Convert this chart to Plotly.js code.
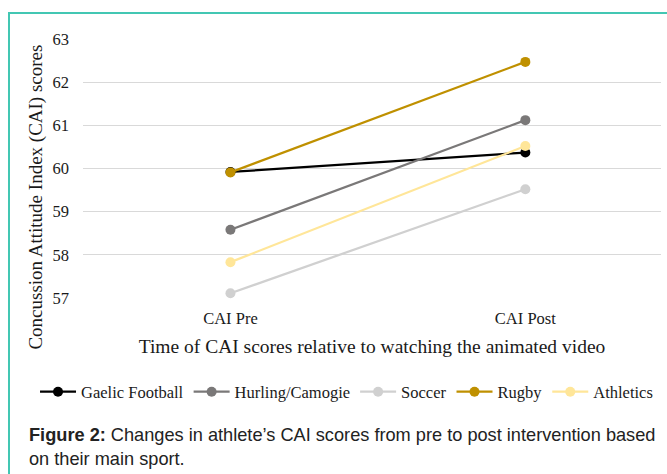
<!DOCTYPE html>
<html>
<head>
<meta charset="utf-8">
<script src="https://cdn.plot.ly/plotly-3.0.1.min.js"></script>
<style>
  html, body { margin: 0; padding: 0; background: #ffffff; }
  #wrap { position: relative; width: 667px; height: 474px; overflow: hidden; }
  #chart { width: 667px; height: 474px; }
  #frame { position: absolute; left: 8px; top: 12px; width: 700px; height: 520px;
           border-top: 2px solid #43c7b3; border-left: 2px solid #43c7b3; pointer-events: none; }
</style>
</head>
<body>
<div id="wrap">
  <div id="chart"></div>
  <div id="frame"></div>
</div>
<script>
// Data
const timePoints = ["CAI Pre", "CAI Post"];
const sports = ["Gaelic Football", "Hurling/Camogie", "Soccer", "Rugby", "Athletics"];
const gaelicFootball = [59.92, 60.37];
const hurlingCamogie = [58.58, 61.12];
const soccer = [57.11, 59.52];
const rugby = [59.91, 62.47];
const athletics = [57.83, 60.52];
const yTicks = [57, 58, 59, 60, 61, 62, 63];

const seriesValues = [gaelicFootball, hurlingCamogie, soccer, rugby, athletics];
const seriesColors = ["#000000", "#7a7878", "#d0d0d0", "#bf9000", "#ffe699"];

const serif = "Liberation Serif, Times New Roman, serif";

const traces = sports.map((name, i) => ({
  type: "scatter",
  mode: "lines+markers",
  name: name,
  x: timePoints,
  y: seriesValues[i],
  line: { color: seriesColors[i], width: 2.25 },
  marker: { color: seriesColors[i], size: 10 },
  cliponaxis: false
}));

const layout = {
  width: 667,
  height: 474,
  paper_bgcolor: "#ffffff",
  plot_bgcolor: "#ffffff",
  margin: { l: 83, r: 6, t: 39, b: 176 },
  showlegend: true,
  font: { family: serif, color: "#1a1a1a" },
  xaxis: {
    type: "category",
    range: [-0.5, 1.46],
    showgrid: false,
    zeroline: false,
    showline: false,
    ticks: "",
    tickfont: { family: serif, size: 16.5, color: "#1a1a1a" },
    ticklabelstandoff: 8,
    title: {
      text: "Time of CAI scores relative to watching the animated video",
      font: { family: serif, size: 19.5, color: "#1a1a1a" },
      standoff: 12
    },
    fixedrange: true
  },
  yaxis: {
    range: [57, 63],
    tickvals: yTicks,
    ticktext: yTicks.map(String),
    showgrid: true,
    gridcolor: "#d9d9d9",
    gridwidth: 1,
    zeroline: false,
    showline: false,
    ticks: "",
    tickfont: { family: serif, size: 16.5, color: "#1a1a1a" },
    ticklabelstandoff: 13,
    fixedrange: true
  },
  legend: {
    orientation: "h",
    x: -0.083,
    xanchor: "left",
    y: -0.363,
    yanchor: "middle",
    itemwidth: 36,
    font: { family: serif, size: 16.5, color: "#1a1a1a" },
    bgcolor: "rgba(0,0,0,0)",
    traceorder: "normal"
  },
  annotations: [
    {
      text: "Concussion Attitude Index (CAI) scores",
      xref: "paper", yref: "paper",
      x: -0.082, y: 0.39,
      xanchor: "center", yanchor: "middle",
      textangle: -90,
      showarrow: false,
      font: { family: serif, size: 19, color: "#1a1a1a" }
    },
    {
      text: "<b>Figure 2:</b> Changes in athlete’s CAI scores from pre to post intervention based<br>on their main sport.",
      xref: "paper", yref: "paper",
      x: -0.0969, y: -0.483,
      xanchor: "left", yanchor: "top",
      align: "left",
      showarrow: false,
      font: { family: "Liberation Sans, Arial, sans-serif", size: 18.2, color: "#222222" }
    }
  ]
};

Plotly.newPlot("chart", traces, layout, { displayModeBar: false, staticPlot: true });
</script>
</body>
</html>
